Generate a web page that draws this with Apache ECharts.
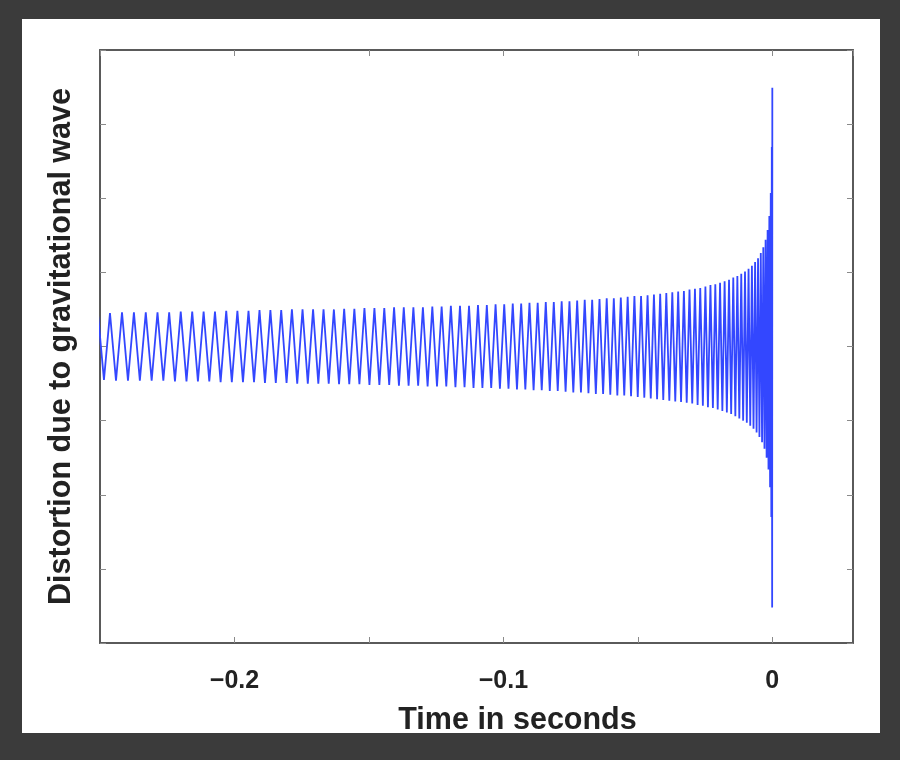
<!DOCTYPE html>
<html>
<head>
<meta charset="utf-8">
<script src="https://cdn.jsdelivr.net/npm/echarts@6/dist/echarts.min.js"></script>
<style>
  html, body { margin: 0; padding: 0; background: #3b3b3b; }
  #chart { width: 900px; height: 760px; }
</style>
</head>
<body>
<div id="chart"></div>
<script>
const timeSec = [
  -0.25304,-0.25078,-0.24853,-0.24629,-0.24405,-0.24182,-0.23960,-0.23739,-0.23518,-0.23298,
  -0.23079,-0.22862,-0.22645,-0.22428,-0.22213,-0.21998,-0.21784,-0.21571,-0.21359,-0.21147,
  -0.20936,-0.20725,-0.20515,-0.20306,-0.20098,-0.19891,-0.19684,-0.19478,-0.19273,-0.19069,
  -0.18866,-0.18664,-0.18463,-0.18262,-0.18063,-0.17864,-0.17666,-0.17469,-0.17273,-0.17077,
  -0.16882,-0.16688,-0.16495,-0.16303,-0.16111,-0.15921,-0.15731,-0.15542,-0.15354,-0.15167,
  -0.14981,-0.14796,-0.14612,-0.14429,-0.14246,-0.14065,-0.13884,-0.13704,-0.13525,-0.13347,
  -0.13170,-0.12993,-0.12818,-0.12643,-0.12469,-0.12296,-0.12124,-0.11953,-0.11783,-0.11614,
  -0.11445,-0.11278,-0.11111,-0.10945,-0.10780,-0.10616,-0.10453,-0.10291,-0.10129,-0.09969,
  -0.09810,-0.09652,-0.09495,-0.09339,-0.09184,-0.09030,-0.08877,-0.08725,-0.08574,-0.08424,
  -0.08275,-0.08126,-0.07979,-0.07833,-0.07687,-0.07543,-0.07400,-0.07257,-0.07116,-0.06976,
  -0.06837,-0.06699,-0.06562,-0.06426,-0.06292,-0.06158,-0.06025,-0.05894,-0.05763,-0.05634,
  -0.05506,-0.05379,-0.05253,-0.05128,-0.05004,-0.04881,-0.04760,-0.04639,-0.04520,-0.04402,
  -0.04285,-0.04170,-0.04055,-0.03942,-0.03830,-0.03719,-0.03609,-0.03501,-0.03394,-0.03288,
  -0.03183,-0.03080,-0.02978,-0.02877,-0.02778,-0.02680,-0.02583,-0.02488,-0.02394,-0.02301,
  -0.02210,-0.02120,-0.02031,-0.01944,-0.01858,-0.01774,-0.01691,-0.01610,-0.01530,-0.01452,
  -0.01375,-0.01300,-0.01227,-0.01155,-0.01085,-0.01016,-0.00949,-0.00884,-0.00821,-0.00759,
  -0.00699,-0.00641,-0.00585,-0.00531,-0.00479,-0.00429,-0.00381,-0.00335,-0.00292,-0.00250,
  -0.00212,-0.00175,-0.00142,-0.00111,-0.00083,-0.00058,-0.00037,-0.00019,-0.00006, 0.00000
];
// Distortion at each peak/trough (arbitrary units)
const distortion = [
  -0.45, 0.45,-0.45, 0.45,-0.46, 0.46,-0.46, 0.46,-0.46, 0.46,
  -0.46, 0.46,-0.46, 0.46,-0.47, 0.47,-0.47, 0.47,-0.47, 0.47,
  -0.47, 0.47,-0.48, 0.48,-0.48, 0.48,-0.48, 0.48,-0.48, 0.49,
  -0.49, 0.49,-0.49, 0.49,-0.49, 0.50,-0.50, 0.50,-0.50, 0.50,
  -0.50, 0.50,-0.50, 0.50,-0.51, 0.51,-0.51, 0.51,-0.51, 0.52,
  -0.52, 0.52,-0.52, 0.52,-0.52, 0.53,-0.53, 0.53,-0.53, 0.53,
  -0.53, 0.53,-0.54, 0.54,-0.54, 0.54,-0.54, 0.55,-0.55, 0.55,
  -0.55, 0.55,-0.56, 0.56,-0.56, 0.56,-0.56, 0.57,-0.57, 0.57,
  -0.57, 0.58,-0.58, 0.58,-0.58, 0.59,-0.59, 0.59,-0.59, 0.60,
  -0.60, 0.60,-0.60, 0.61,-0.61, 0.61,-0.62, 0.62,-0.62, 0.63,
  -0.63, 0.63,-0.64, 0.64,-0.64, 0.65,-0.65, 0.65,-0.66, 0.66,
  -0.66, 0.67,-0.67, 0.68,-0.68, 0.68,-0.69, 0.69,-0.70, 0.70,
  -0.71, 0.71,-0.72, 0.72,-0.73, 0.73,-0.74, 0.74,-0.75, 0.75,
  -0.76, 0.77,-0.77, 0.78,-0.79, 0.79,-0.80, 0.81,-0.82, 0.83,
  -0.83, 0.84,-0.85, 0.86,-0.87, 0.88,-0.89, 0.90,-0.91, 0.93,
  -0.94, 0.95,-0.97, 0.98,-1.00, 1.01,-1.03, 1.05,-1.07, 1.09,
  -1.11, 1.14,-1.16, 1.19,-1.22, 1.26,-1.29, 1.34,-1.38, 1.44,
  -1.50, 1.57,-1.66, 1.76,-1.90, 2.07,-2.30, 2.69,-3.52, 3.49
];
const xLabelValues = [-0.2, -0.1, 0];
const xAxisTitle = 'Time in seconds';
const yAxisTitle = 'Distortion due to gravitational wave';

const seriesData = timeSec.map((t, i) => [t, distortion[i]]);

function xLabel(v) {
  for (const lv of xLabelValues) {
    if (Math.abs(v - lv) < 1e-9) return lv === 0 ? '0' : '\u2212' + Math.abs(lv).toFixed(1);
  }
  return '';
}

const FONT = '"Liberation Sans", Arial, Helvetica, sans-serif';
const frameLine = { show: true, onZero: false, lineStyle: { color: '#5a5a5a', width: 2 } };
const tickStyle = { show: true, inside: true, length: 6, lineStyle: { color: '#8a8a8a', width: 1 } };

const chart = echarts.init(document.getElementById('chart'), null, { renderer: 'canvas' });
chart.setOption({
  backgroundColor: 'transparent',
  animation: false,
  graphic: [{
    type: 'rect', z: -10, silent: true,
    shape: { x: 22, y: 19, width: 858, height: 714 },
    style: { fill: '#ffffff' }
  }],
  grid: { left: 100, right: 47, top: 50, bottom: 117, containLabel: false },
  xAxis: [{
    type: 'value', position: 'bottom', min: -0.25, max: 0.03, interval: 0.05,
    axisLine: frameLine, axisTick: tickStyle, splitLine: { show: false },
    axisLabel: { formatter: xLabel, color: '#222', fontFamily: FONT, fontSize: 25, fontWeight: 'bold', margin: 26, showMinLabel: false, showMaxLabel: false },
    name: xAxisTitle, nameLocation: 'middle', nameGap: 62,
    nameTextStyle: { color: '#222', fontFamily: FONT, fontSize: 30.5, fontWeight: 'bold', padding: [0, 0, 0, 82] }
  }, {
    type: 'value', position: 'top', min: -0.25, max: 0.03, interval: 0.05,
    axisLine: frameLine, axisTick: tickStyle, splitLine: { show: false },
    axisLabel: { show: false }
  }],
  yAxis: [{
    type: 'value', position: 'left', min: -4, max: 4, interval: 1,
    axisLine: frameLine, axisTick: tickStyle, splitLine: { show: false },
    axisLabel: { show: false },
    name: yAxisTitle, nameLocation: 'middle', nameGap: 23, nameRotate: 90,
    nameTextStyle: { color: '#222', fontFamily: FONT, fontSize: 30.5, fontWeight: 'bold' }
  }, {
    type: 'value', position: 'right', min: -4, max: 4, interval: 1,
    axisLine: frameLine, axisTick: tickStyle, splitLine: { show: false },
    axisLabel: { show: false }
  }],
  series: [{
    type: 'line',
    xAxisIndex: 0, yAxisIndex: 0,
    data: seriesData,
    showSymbol: false, symbol: 'none',
    sampling: null,
    clip: true,
    lineStyle: { color: '#3347ff', width: 1.8 }
  }]
});
</script>
</body>
</html>
